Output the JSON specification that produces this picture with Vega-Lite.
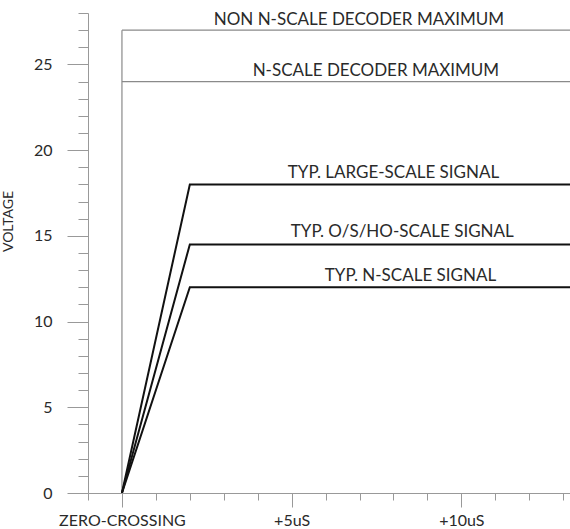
{
  "$schema": "https://vega.github.io/schema/vega-lite/v6.json",
  "autosize": "none",
  "width": 482,
  "height": 480,
  "padding": {"left": 88, "top": 13, "right": 0, "bottom": 36},
  "background": "white",
  "config": {"view": {"stroke": null}, "font": "Lato"},
  "datasets": {
    "lines": [
      {"series": "large", "kind": "signal", "t": 0, "v": 0},
      {"series": "large", "kind": "signal", "t": 2, "v": 18},
      {"series": "large", "kind": "signal", "t": 13.2, "v": 18},
      {"series": "oshos", "kind": "signal", "t": 0, "v": 0},
      {"series": "oshos", "kind": "signal", "t": 2, "v": 14.5},
      {"series": "oshos", "kind": "signal", "t": 13.2, "v": 14.5},
      {"series": "n", "kind": "signal", "t": 0, "v": 0},
      {"series": "n", "kind": "signal", "t": 2, "v": 12},
      {"series": "n", "kind": "signal", "t": 13.2, "v": 12},
      {"series": "nonmax", "kind": "ref", "t": 0, "v": 27},
      {"series": "nonmax", "kind": "ref", "t": 13.2, "v": 27},
      {"series": "nmax", "kind": "ref", "t": 0, "v": 24},
      {"series": "nmax", "kind": "ref", "t": 13.2, "v": 24},
      {"series": "zero", "kind": "ref", "t": 0, "v": 0},
      {"series": "zero", "kind": "ref", "t": 0, "v": 27}
    ],
    "labels": [
      {"t": 6.98, "v": 27.3, "text": "NON N-SCALE DECODER MAXIMUM"},
      {"t": 7.48, "v": 24.33, "text": "N-SCALE DECODER MAXIMUM"},
      {"t": 8.0, "v": 18.38, "text": "TYP. LARGE-SCALE SIGNAL"},
      {"t": 8.26, "v": 14.94, "text": "TYP. O/S/HO-SCALE SIGNAL"},
      {"t": 8.5, "v": 12.37, "text": "TYP. N-SCALE SIGNAL"}
    ]
  },
  "layer": [
    {
      "data": {"name": "lines"},
      "transform": [{"filter": "datum.kind === 'ref'"}],
      "mark": {"type": "line", "color": "#8a8a8a", "strokeWidth": 1.2, "clip": true},
      "encoding": {
        "x": {
          "field": "t", "type": "quantitative",
          "scale": {"domain": [-1, 13.2], "nice": false, "zero": false},
          "axis": {
            "values": [-1, 0, 1, 2, 3, 4, 5, 6, 7, 8, 9, 10, 11, 12, 13],
            "tickCount": 200,
            "labelExpr": "datum.value === 0 ? 'ZERO-CROSSING' : datum.value === 5 ? '+5uS' : datum.value === 10 ? '+10uS' : ''",
            "title": null,
            "grid": false,
            "domainColor": "#999999",
            "tickColor": "#999999",
            "tickSize": {"condition": {"test": "datum.value % 5 === 0", "value": 14}, "value": 7},
            "labelPadding": 5,
            "labelFontSize": 16,
            "labelColor": "#2a2a2a",
            "labelOverlap": false,
            "labelFlush": false
          }
        },
        "y": {
          "field": "v", "type": "quantitative",
          "scale": {"domain": [0, 28], "nice": false},
          "axis": {
            "values": [0, 1, 2, 3, 4, 5, 6, 7, 8, 9, 10, 11, 12, 13, 14, 15, 16, 17, 18, 19, 20, 21, 22, 23, 24, 25, 26, 27, 28],
            "tickCount": 200,
            "labelExpr": "datum.value % 5 === 0 ? datum.value : ''",
            "title": "VOLTAGE",
            "titleFontSize": 14,
            "titleFontWeight": "normal",
            "titleColor": "#2a2a2a",
            "titleX": -80,
            "titleY": 208,
            "titleBaseline": "middle",
            "grid": false,
            "domainColor": "#999999",
            "tickColor": "#999999",
            "tickSize": {"condition": {"test": "datum.value % 5 === 0", "value": 21}, "value": 10},
            "labelPadding": 15,
            "labelFontSize": 16,
            "labelColor": "#2a2a2a",
            "labelOverlap": false,
            "labelFlush": false
          }
        },
        "detail": {"field": "series"}
      }
    },
    {
      "data": {"name": "lines"},
      "transform": [{"filter": "datum.kind === 'signal'"}],
      "mark": {"type": "line", "color": "#111111", "strokeWidth": 2, "clip": true},
      "encoding": {
        "x": {"field": "t", "type": "quantitative"},
        "y": {"field": "v", "type": "quantitative"},
        "detail": {"field": "series"}
      }
    },
    {
      "data": {"name": "labels"},
      "mark": {"type": "text", "fontSize": 17, "color": "#2a2a2a", "align": "center", "baseline": "alphabetic", "font": "Lato"},
      "encoding": {
        "x": {"field": "t", "type": "quantitative"},
        "y": {"field": "v", "type": "quantitative"},
        "text": {"field": "text"}
      }
    }
  ]
}
